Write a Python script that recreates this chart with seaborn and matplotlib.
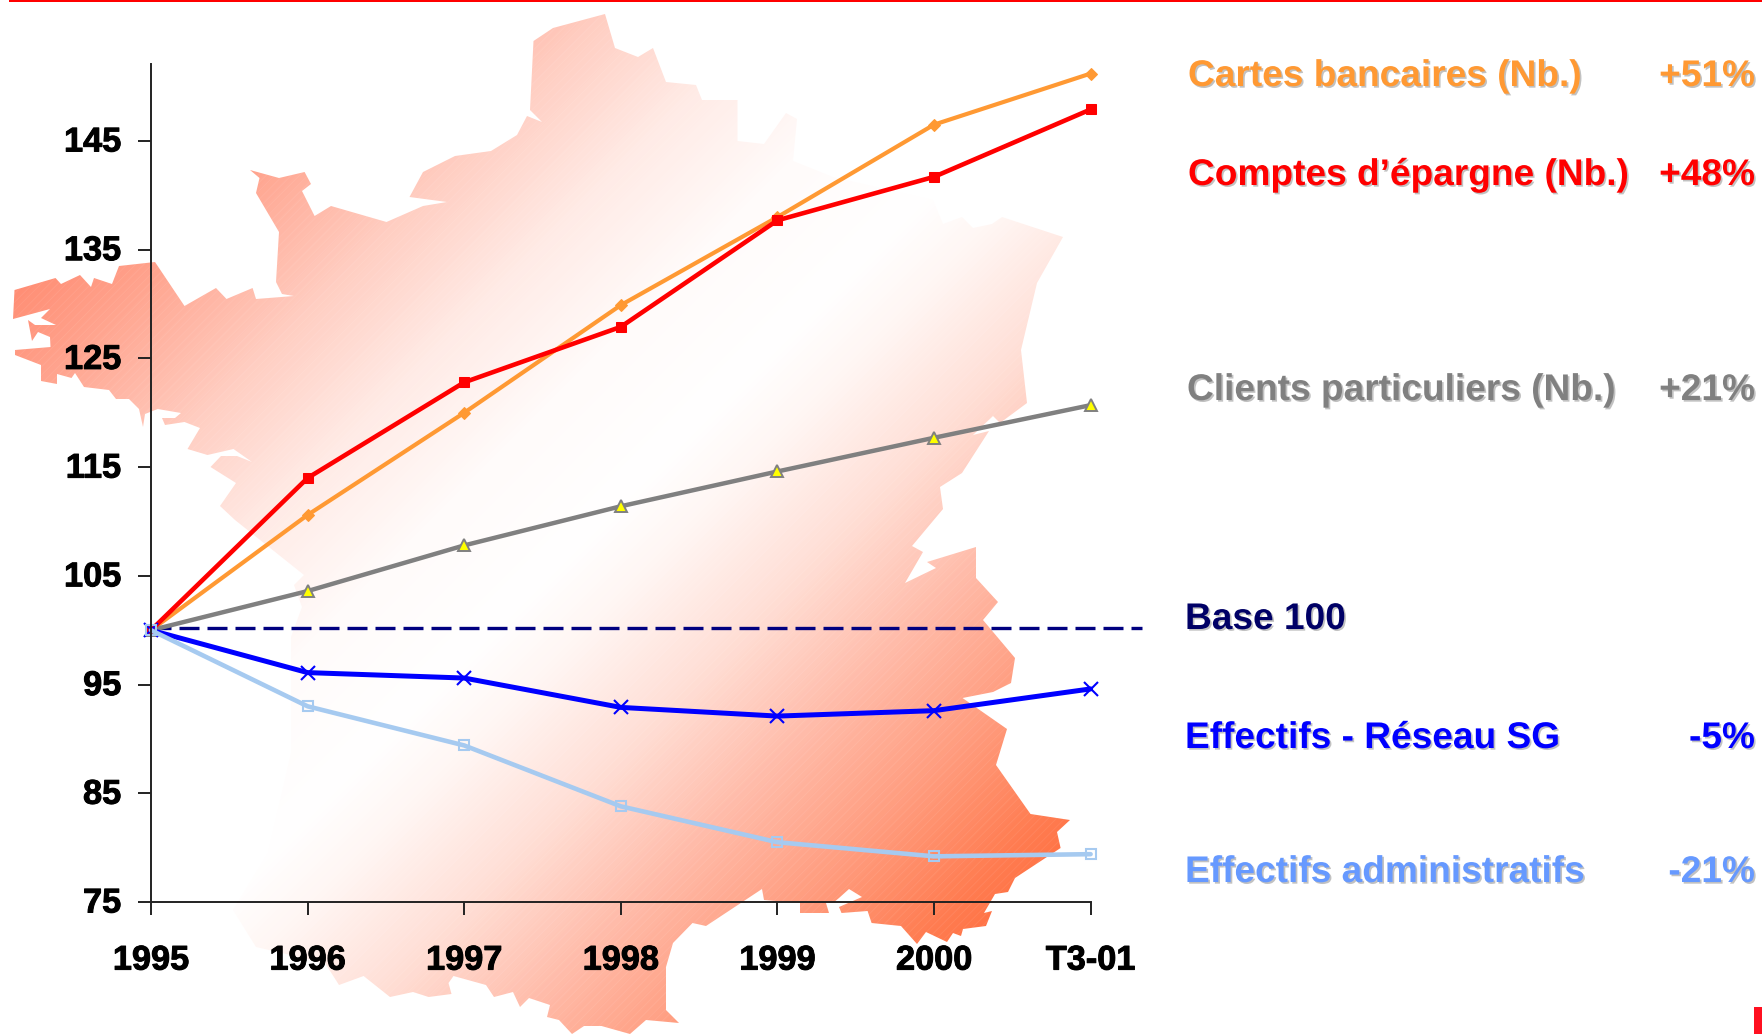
import numpy as np
import pandas as pd
import matplotlib
matplotlib.use('Agg')
import matplotlib.pyplot as plt
import matplotlib.patheffects as pe
from matplotlib.colors import LinearSegmentedColormap
from matplotlib.patches import Polygon, Rectangle
from matplotlib.transforms import ScaledTranslation
import seaborn as sns

# chart values
categories = ['1995', '1996', '1997', '1998', '1999', '2000', 'T3-01']
cartes = [100, 110.6, 120.0, 129.9, 138.0, 146.5, 151.2]
comptes = [100, 114.0, 122.8, 127.9, 137.7, 141.7, 147.9]
clients = [100, 103.6, 107.8, 111.4, 114.6, 117.7, 120.7]
reseau = [100, 96.1, 95.6, 92.9, 92.1, 92.6, 94.6]
admin = [100, 93.0, 89.4, 83.8, 80.5, 79.2, 79.4]
y_ticks = [75, 85, 95, 105, 115, 125, 135, 145]

labels = ['Cartes bancaires (Nb.)', 'Comptes d\u2019épargne (Nb.)', 'Clients particuliers (Nb.)',
          'Base 100', 'Effectifs - Réseau SG', 'Effectifs administratifs']
percents = ['+51%', '+48%', '+21%', '', '-5%', '-21%']

# france outline, picture pixels (decoration only)
france = [(14.5, 290), (55.5, 278), (61, 284), (80, 275), (91, 287), (94, 278), (112, 284), (119, 266),
          (155, 262), (184.5, 306), (216, 288), (226.5, 299), (252.6, 288), (256, 299), (294, 296), (282, 294),
          (276, 282), (279, 232), (256, 193), (259.5, 178), (250, 170), (279, 178), (304.6, 172), (311, 184),
          (302, 191), (314.6, 216), (331, 206), (386.5, 222), (423, 206), (447, 202), (409.5, 197), (423, 172),
          (455, 156), (491, 151), (517, 135), (527, 116), (542, 122), (530, 110), (533.5, 41), (553, 28),
          (605, 14), (615, 48), (638, 57), (653, 48), (666, 82), (696, 85), (702, 100), (737.5, 100),
          (737.5, 141), (764, 144), (786, 113), (797, 119), (793, 161), (833, 177), (933, 200), (943, 224),
          (962, 217), (973, 228), (992, 224), (1002, 217), (1063, 237), (1037, 283), (1021, 350), (1027, 403),
          (1000, 423), (993, 416), (973, 435), (989, 431), (962, 473), (940, 487), (943, 509), (912, 546),
          (923, 552), (905, 583), (936, 568), (927, 562), (976, 547), (976, 578), (998, 602), (983, 620),
          (1015, 658), (1011, 683), (993, 692), (962.5, 698), (1007, 729), (996, 765), (1030.5, 814), (1070, 820),
          (1057, 832), (1060.6, 848), (1015, 878), (1008, 892), (995, 894), (984, 913), (992, 911), (986, 926),
          (963, 929), (961, 936), (953, 933), (947, 942), (926, 932), (917, 944), (901, 926), (871.6, 923),
          (867.6, 911), (841.5, 913), (839, 907), (862, 897), (849, 889), (839, 898), (833, 903), (826, 903),
          (829, 913), (800, 913), (800, 903), (764, 900), (762, 889), (706, 926), (692.5, 923), (673, 943),
          (666, 967), (666, 1010), (679, 1023), (646, 1020), (630, 1034), (601.5, 1026), (584, 1026), (572, 1034),
          (559, 1020), (547, 1017), (550, 1005), (529, 998), (520, 1007), (513, 992), (494, 997), (486, 985),
          (453.5, 976), (448.5, 983), (451.5, 994), (428.6, 997), (413, 992), (390, 997), (363.6, 976), (339, 985),
          (325, 963), (256, 947), (233, 910), (268, 853), (291, 753), (291, 637), (302, 607), (294, 585),
          (304, 575), (235, 520), (220, 506), (236, 483), (210.5, 467), (221, 456), (237, 456), (252, 462),
          (233.5, 449), (207.5, 455), (187.5, 449), (200, 428), (184.5, 422), (165, 425), (162, 418), (175, 418),
          (181, 413), (157.7, 409), (145, 414), (143, 427), (139, 409), (129, 399), (116, 399), (109, 390),
          (84, 387), (75, 373), (71.5, 378), (57, 374), (57, 384), (41, 381), (41, 365), (15, 355),
          (15, 350), (50.5, 347), (50, 337), (38, 332), (32, 341), (28, 320), (35, 325), (56, 325),
          (41, 318), (50, 309), (13, 319)]

sns.set_theme(style='white')
plt.rcParams['font.family'] = 'Liberation Sans'
plt.rcParams['font.weight'] = 'bold'
plt.rcParams['hatch.linewidth'] = 0.6

W, H = 1762, 1034
fig = plt.figure(figsize=(W / 100, H / 100), dpi=100, facecolor='white')

# background layer in pixel coords
bg = fig.add_axes([0, 0, 1, 1], zorder=0)
bg.set_xlim(0, W)
bg.set_ylim(H, 0)
bg.axis('off')

xx, yy = np.meshgrid(np.arange(W), np.arange(H))
grad = np.clip((xx + yy - 280) / (1960 - 280), 0, 1)
cmap = LinearSegmentedColormap.from_list('fr', [(0, '#FF8A70'), (0.08, '#FFA28C'), (0.2, '#FFCEC2'),
                                                (0.3, '#FFEBE6'), (0.4, '#FFFBFA'), (0.5, '#FFFFFF'),
                                                (0.56, '#FFF6F3'), (0.65, '#FFDFD6'), (0.75, '#FFBBA9'),
                                                (0.85, '#FF9C7E'), (0.93, '#FF8056'), (1, '#FF6C3C')])
im = bg.imshow(grad, cmap=cmap, extent=(0, W, H, 0), aspect='auto', vmin=0, vmax=1, zorder=1)
shape = Polygon(france, closed=True, transform=bg.transData, facecolor='none', edgecolor='none')
bg.add_patch(shape)
im.set_clip_path(shape)
bg.add_patch(Polygon(france, closed=True, facecolor='none', edgecolor=(1, 1, 1, 0.08), hatch='////', lw=0, zorder=2))

bg.add_patch(Rectangle((9, 0), W - 9, 2, color='#FF0000', lw=0, zorder=3))
bg.add_patch(Rectangle((1754, 1007), 8, 27, color='#FF1020', lw=0, zorder=3))

# right hand labels
colors = ['#FF9933', '#FF0000', '#808080', '#000066', '#0000FF', '#6699FF']
baselines = [86, 185, 400, 629, 748, 882]
left_x = [1188, 1188, 1187, 1185, 1185, 1185]
shadow = [pe.withSimplePatchShadow(offset=(1.2, -1.2), shadow_rgbFace='#999999', alpha=0.6)]
for i in range(len(labels)):
    bg.text(left_x[i], baselines[i], labels[i], color=colors[i], fontsize=26.7, fontweight='bold',
            va='baseline', ha='left', path_effects=shadow)
    if percents[i]:
        bg.text(1755, baselines[i], percents[i], color=colors[i], fontsize=26.7, fontweight='bold',
                va='baseline', ha='right', path_effects=shadow)

# chart
ax = fig.add_axes([151 / W, 1 - 902 / H, (1090.6 - 151) / W, (902 - 64) / H], zorder=1)
ax.patch.set_visible(False)

pos = list(range(len(categories)))
sns.lineplot(x=pos, y=cartes, ax=ax, color='#FF9933', lw=3.0, marker='D', ms=6, mfc='#FF9933', mec='#FF9933', clip_on=False)
sns.lineplot(x=pos, y=clients, ax=ax, color='#808080', lw=3.2, marker='^', ms=8, mfc='#FFFF00', mec='#808080', mew=1.4, clip_on=False)
sns.lineplot(x=pos, y=comptes, ax=ax, color='#FF0000', lw=3.3, marker='s', ms=7, mfc='#FF0000', mec='#FF0000', clip_on=False)
sns.lineplot(x=pos, y=reseau, ax=ax, color='#0000FF', lw=3.6, marker='x', ms=10, mew=1.5, mec='#0000FF', clip_on=False)
sns.lineplot(x=pos, y=admin, ax=ax, color='#A6CAF0', lw=3.3, marker='s', ms=7.5, mfc='none', mec='#A6CAF0', mew=1.5, clip_on=False)
ax.plot([0, 6.33], [100.17, 100.17], color='#000080', lw=2.4, dashes=(6.0, 2.4), clip_on=False, zorder=1.5)

ax.set_xlim(0, 6)
ax.set_ylim(75, 152.08)
ax.set_xticks(pos, categories)
ax.set_yticks(y_ticks)
ax.tick_params(axis='x', length=9.4, width=1.4, color='#222222', pad=22, labelsize=24.7, labelcolor='black', bottom=True)
ax.tick_params(axis='y', length=9.4, width=1.4, color='#222222', pad=12, labelsize=24.7, labelcolor='black', left=True)
for s in ['top', 'right']:
    ax.spines[s].set_visible(False)
for s in ['left', 'bottom']:
    ax.spines[s].set_color('#222222')
    ax.spines[s].set_linewidth(1.4)
heavy = [pe.withStroke(linewidth=0.7, foreground='black')]
for t in ax.get_xticklabels() + ax.get_yticklabels():
    t.set_fontweight('bold')
    t.set_path_effects(heavy)
up = ScaledTranslation(0, 1.5 / 100, fig.dpi_scale_trans)
for t in ax.get_yticklabels():
    t.set_transform(t.get_transform() + up)

fig.savefig('out.png', dpi=100)
